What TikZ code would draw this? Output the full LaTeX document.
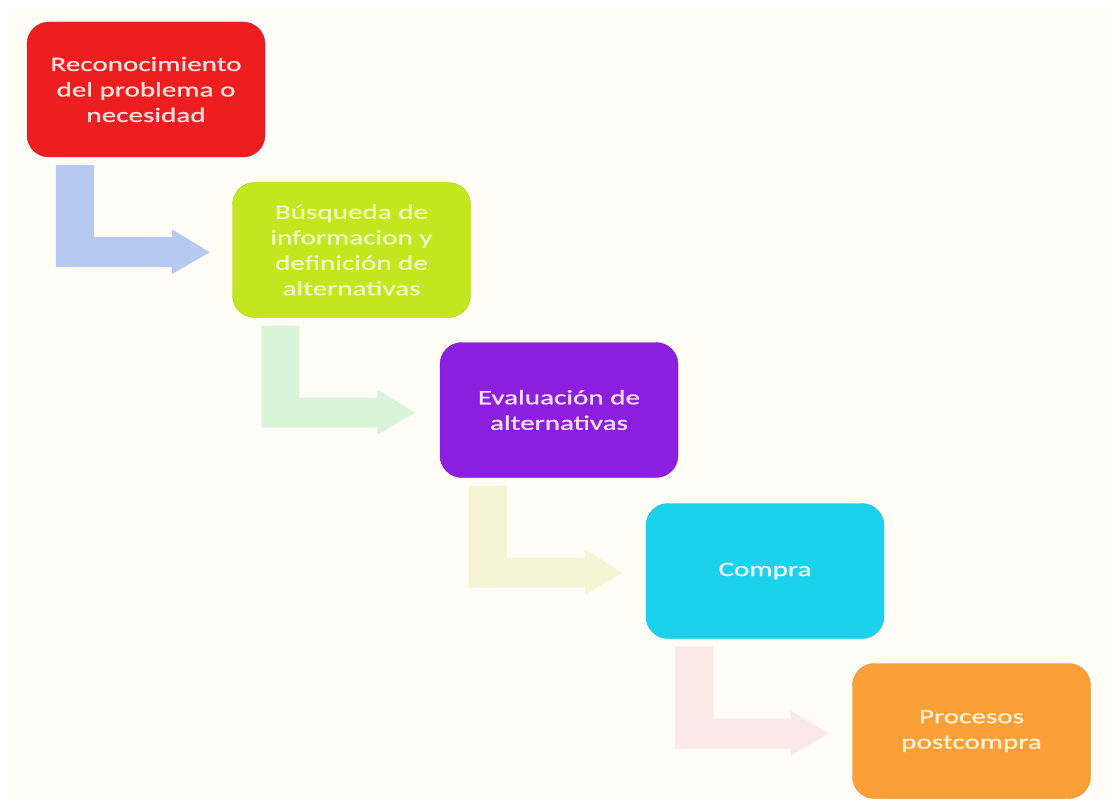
\documentclass[tikz,border=0pt]{standalone}
\usepackage{fontspec}
\newfontfamily\boxfont[FakeStretch=1.42, FakeBold=0.9]{Carlito}
\definecolor{pagecream}{RGB}{255,253,246}
\definecolor{stepred}{RGB}{238,30,32}
\definecolor{steplime}{RGB}{196,230,30}
\definecolor{steppurple}{RGB}{140,30,224}
\definecolor{stepcyan}{RGB}{26,210,236}
\definecolor{steporange}{RGB}{250,160,54}
\definecolor{arrowblue}{RGB}{182,202,240}
\definecolor{arrowgreen}{RGB}{216,245,218}
\definecolor{arrowyellow}{RGB}{245,244,212}
\definecolor{arrowpink}{RGB}{251,233,229}
\definecolor{txtred}{RGB}{255,228,222}
\definecolor{txtlime}{RGB}{242,250,196}
\definecolor{txtpurple}{RGB}{252,228,252}
\definecolor{txtcyan}{RGB}{236,250,255}
\definecolor{txtorange}{RGB}{255,242,218}
\tikzset{
  stepbox/.style={rectangle, rounded corners=22pt, minimum width=238pt,
    minimum height=135pt, inner sep=4pt, align=center,
    font=\boxfont\fontsize{20.5}{25.5}\selectfont},
}
% L-shaped bent arrow hanging below the south-west corner of a step box
\newcommand\bentarrow[2]{%
  \fill[#2, shift={(#1.south west)}]
    (29,8) -- (67,8) -- (67,80) -- (145,80) -- (145,72) -- (183,95)
    -- (145,117) -- (145,110) -- (29,110) -- cycle;}
\begin{document}
\begin{tikzpicture}[x=1pt, y=-1pt]
  \useasboundingbox (0,0) rectangle (1115,802);
  \fill[white] (0,0) rectangle (1115,802);
  \fill[pagecream] (8,8) rectangle (1113,802);

  \node[stepbox, fill=stepred, draw=stepred!85!black, text=txtred]
    (s1) at (146,89.5) {Reconocimiento\\del problema o\\necesidad};
  \node[stepbox, fill=steplime, draw=steplime!90!black, text=txtlime]
    (s2) at (351.5,250) {Búsqueda de\\informacion y\\definición de\\alternativas};
  \node[stepbox, fill=steppurple, draw=steppurple!85!black, text=txtpurple]
    (s3) at (559,410) {Evaluación de\\alternativas};
  \node[stepbox, fill=stepcyan, draw=stepcyan!90!black, text=txtcyan]
    (s4) at (765,571) {Compra};
  \node[stepbox, fill=steporange, draw=steporange!90!black, text=txtorange]
    (s5) at (971.5,731) {Procesos\\postcompra};

  \bentarrow{s1}{arrowblue}
  \bentarrow{s2}{arrowgreen}
  \bentarrow{s3}{arrowyellow}
  \bentarrow{s4}{arrowpink}
\end{tikzpicture}
\end{document}
